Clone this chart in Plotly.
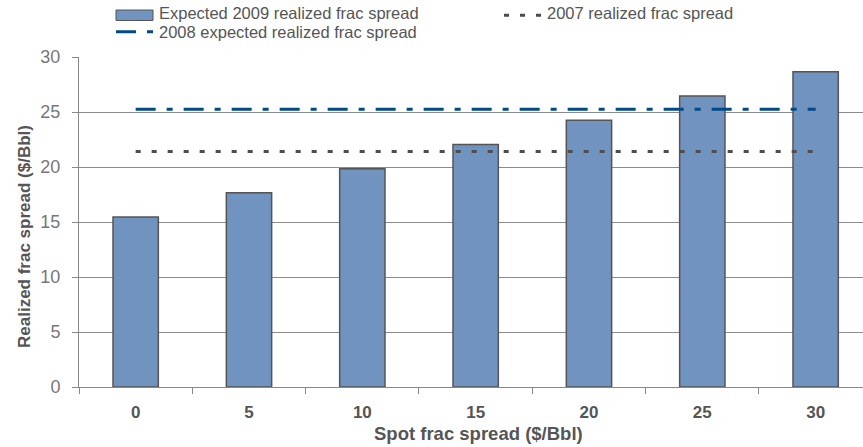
import plotly.graph_objects as go

categories = ["0", "5", "10", "15", "20", "25", "30"]
expected_2009 = [15.45, 17.65, 19.85, 22.05, 24.25, 26.45, 28.65]
realized_2007 = [21.4, 21.4, 21.4, 21.4, 21.4, 21.4, 21.4]
expected_2008 = [25.25, 25.25, 25.25, 25.25, 25.25, 25.25, 25.25]
y_ticks = [0, 5, 10, 15, 20, 25, 30]

NAME_BAR = "Expected 2009 realized frac spread"
NAME_2007 = "2007 realized frac spread"
NAME_2008 = "2008 expected realized frac spread"

FONT = "Liberation Sans, Arial, sans-serif"
BAR_COLOR = "#7093BF"
BAR_EDGE = "#555555"
C2007 = "#4d4d4d"
C2008 = "#004A87"
DASH_2007 = "5px,11px"
DASH_2008 = "20px,11px,6px,11px"

W, H = 863, 447
PLOT_LEFT, PLOT_TOP, PLOT_BOTTOM = 79, 57, 387
ML, MT, MB = PLOT_LEFT, PLOT_TOP, H - PLOT_BOTTOM
PW, PH = W - ML, H - MT - MB
CAT_PX = 113.33
X_MAX = -0.5 + PW / CAT_PX


def px(x):
    return (x - PLOT_LEFT) / PW


def py(y):
    return (PLOT_BOTTOM - y) / PH


fig = go.Figure()
fig.add_trace(go.Bar(
    x=categories, y=expected_2009, name=NAME_BAR,
    width=0.4, marker=dict(color=BAR_COLOR, line=dict(color=BAR_EDGE, width=1.5)),
))
fig.add_trace(go.Scatter(
    x=categories, y=realized_2007, name=NAME_2007, mode="lines",
    line=dict(color=C2007, width=3, dash=DASH_2007),
))
fig.add_trace(go.Scatter(
    x=categories, y=expected_2008, name=NAME_2008, mode="lines",
    line=dict(color=C2008, width=3, dash=DASH_2008),
))

fig.update_layout(
    width=W, height=H,
    margin=dict(l=ML, r=0, t=MT, b=MB, autoexpand=False),
    paper_bgcolor="white", plot_bgcolor="white",
    font=dict(family=FONT, color="#555555"),
    showlegend=False,
)

fig.update_xaxes(
    type="category", range=[-0.5, X_MAX], automargin=False,
    showline=True, linecolor="#888888", linewidth=1,
    ticks="outside", ticklen=6, tickcolor="#888888", tickson="boundaries",
    tickfont=dict(size=17, color="#555555", family=FONT, weight="bold"),
    ticklabelstandoff=10,
    showgrid=False,
)
fig.update_yaxes(
    range=[0, 30], tickvals=y_ticks, automargin=False,
    showline=True, linecolor="#888888", linewidth=1,
    ticks="outside", ticklen=6, tickcolor="#888888",
    tickfont=dict(size=18, color="#777777"),
    ticklabelstandoff=8,
    showgrid=True, gridcolor="#8c8c8c", gridwidth=1,
    zeroline=False,
)

# axis titles
fig.add_annotation(
    text="Spot frac spread ($/Bbl)", xref="paper", yref="paper",
    x=px(478), y=py(433), xanchor="center", yanchor="middle",
    showarrow=False, font=dict(size=18.5, color="#555555", weight="bold"),
)
fig.add_annotation(
    text="Realized frac spread ($/Bbl)", xref="paper", yref="paper",
    x=px(24), y=py(237), xanchor="center", yanchor="middle", textangle=-90,
    showarrow=False, font=dict(size=17, color="#555555", weight="bold"),
)

# legend (drawn manually to match the two-column layout)
leg_font = dict(size=16.5, color="#555555")
fig.add_shape(type="rect", xref="paper", yref="paper",
              x0=px(116), x1=px(153), y0=py(20.5), y1=py(10),
              fillcolor=BAR_COLOR, line=dict(color=BAR_EDGE, width=1))
fig.add_annotation(text=NAME_BAR, xref="paper", yref="paper", x=px(157), y=py(13),
                   xanchor="left", yanchor="middle", showarrow=False, font=leg_font)
fig.add_shape(type="line", xref="paper", yref="paper",
              x0=px(504), x1=px(543), y0=py(15.3), y1=py(15.3),
              line=dict(color=C2007, width=3, dash=DASH_2007))
fig.add_annotation(text=NAME_2007, xref="paper", yref="paper", x=px(545), y=py(13),
                   xanchor="left", yanchor="middle", showarrow=False, font=leg_font)
fig.add_shape(type="line", xref="paper", yref="paper",
              x0=px(116), x1=px(153), y0=py(31.7), y1=py(31.7),
              line=dict(color=C2008, width=3, dash=DASH_2008))
fig.add_annotation(text=NAME_2008, xref="paper", yref="paper", x=px(157), y=py(32),
                   xanchor="left", yanchor="middle", showarrow=False, font=leg_font)

fig.write_html(
    "out.html",
    config={"displayModeBar": False},
    post_script="document.documentElement.style.margin='0';document.body.style.margin='0';"
                "document.body.style.overflow='hidden';",
)
